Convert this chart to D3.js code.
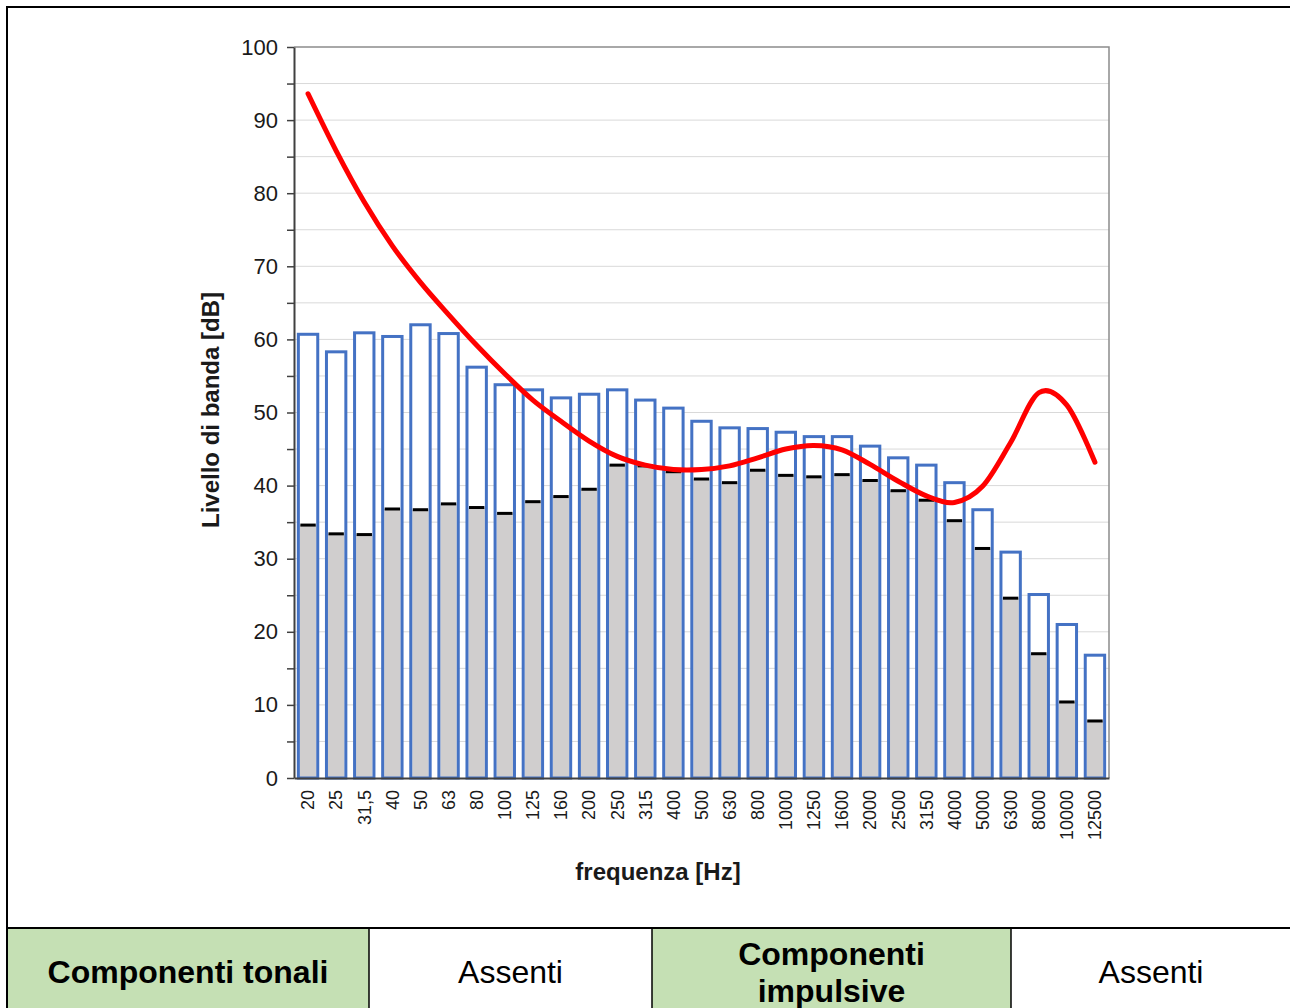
<!DOCTYPE html>
<html>
<head>
<meta charset="utf-8">
<script src="https://cdn.jsdelivr.net/npm/d3@7"></script>
<style>
  html, body { margin: 0; padding: 0; background: #fff; }
  svg { display: block; font-family: "Liberation Sans", Arial, sans-serif; }
</style>
</head>
<body>
<svg id="chart" width="1290" height="1008"></svg>
<script>
// Third-octave bands (Hz)
const categories = ["20","25","31,5","40","50","63","80","100","125","160","200","250","315","400","500","630","800","1000","1250","1600","2000","2500","3150","4000","5000","6300","8000","10000","12500"];

// Measured band level, dB (blue outlined bars)
const bandLevel = [60.7,58.3,60.9,60.4,62.0,60.8,56.2,53.8,53.1,52.0,52.5,53.1,51.7,50.6,48.8,47.9,47.8,47.3,46.7,46.7,45.4,43.8,42.8,40.4,36.7,30.9,25.1,21.0,16.8];

// Minimum band level, dB (grey bars with black marker)
const minLevel = [34.6,33.4,33.3,36.8,36.7,37.5,37.0,36.2,37.8,38.5,39.5,42.8,42.7,41.9,40.9,40.4,42.1,41.4,41.2,41.5,40.7,39.3,38.0,35.2,31.4,24.6,17.0,10.4,7.8];

// Reference curve, dB (red line)
const refCurve = [93.6,85.8,78.8,72.8,67.8,63.4,59.2,55.3,51.7,48.8,46.1,44.0,42.8,42.2,42.2,42.7,43.8,45.0,45.5,44.9,42.9,40.6,38.6,37.7,39.9,45.9,52.7,51.0,43.2];

const yTicks = d3.range(0, 101, 5);

// Summary table
const tableCells = [
  { lines: ["Componenti tonali"], bold: true, fill: "#C5E0B4" },
  { lines: ["Assenti"], bold: false, fill: "#FFFFFF" },
  { lines: ["Componenti", "impulsive"], bold: true, fill: "#C5E0B4" },
  { lines: ["Assenti"], bold: false, fill: "#FFFFFF" }
];
const tableEdges = [7, 369, 652, 1011, 1291];

const svg = d3.select("#chart");
const plotL = 294, plotR = 1109, plotT = 47, plotB = 778;

const x = d3.scaleBand().domain(categories).range([plotL, plotR])
  .paddingInner(0.31).paddingOuter(0.155);
const y = d3.scaleLinear().domain([0, 100]).range([plotB, plotT]);

// gridlines
svg.append("g").selectAll("line").data(yTicks.filter(d => d > 0 && d < 100)).join("line")
  .attr("x1", plotL).attr("x2", plotR)
  .attr("y1", d => y(d)).attr("y2", d => y(d))
  .attr("stroke", "#D9D9D9").attr("stroke-width", 1);

// plot frame (top and right)
svg.append("path")
  .attr("d", `M${plotL},${plotT}H${plotR}V${plotB}`)
  .attr("fill", "none").attr("stroke", "#8C8C8C").attr("stroke-width", 1.5);

const bw = x.bandwidth();
const bars = svg.append("g");
// white filled level bars
bars.selectAll("rect.lvl").data(categories).join("rect").attr("class", "lvl")
  .attr("x", d => x(d)).attr("width", bw)
  .attr("y", (d, i) => y(bandLevel[i])).attr("height", (d, i) => plotB - y(bandLevel[i]))
  .attr("fill", "#FFFFFF");
// grey minimum bars
bars.selectAll("rect.min").data(categories).join("rect").attr("class", "min")
  .attr("x", d => x(d) + 1.5).attr("width", bw - 3)
  .attr("y", (d, i) => y(minLevel[i])).attr("height", (d, i) => plotB - y(minLevel[i]))
  .attr("fill", "#D0CECE");
// black markers
bars.selectAll("line.mk").data(categories).join("line").attr("class", "mk")
  .attr("x1", d => x(d) + 2).attr("x2", d => x(d) + bw - 2)
  .attr("y1", (d, i) => y(minLevel[i])).attr("y2", (d, i) => y(minLevel[i]))
  .attr("stroke", "#000").attr("stroke-width", 3);
// blue outlines
bars.selectAll("rect.out").data(categories).join("rect").attr("class", "out")
  .attr("x", d => x(d)).attr("width", bw)
  .attr("y", (d, i) => y(bandLevel[i])).attr("height", (d, i) => plotB - y(bandLevel[i]))
  .attr("fill", "none").attr("stroke", "#4472C4").attr("stroke-width", 3);

// red reference curve
const line = d3.line()
  .x((d, i) => x(categories[i]) + bw / 2)
  .y(d => y(d))
  .curve(d3.curveCardinal.tension(0));
svg.append("path").datum(refCurve)
  .attr("d", line)
  .attr("fill", "none").attr("stroke", "#FF0000").attr("stroke-width", 5)
  .attr("stroke-linecap", "round");

// y axis
const yAxis = svg.append("g").attr("transform", `translate(${plotL},0)`)
  .call(d3.axisLeft(y).tickValues(yTicks).tickSize(7).tickSizeOuter(0)
    .tickFormat(d => d % 10 === 0 ? d : ""));
yAxis.select(".domain").attr("stroke", "#404040").attr("stroke-width", 2);
yAxis.selectAll(".tick line").attr("stroke", "#404040").attr("stroke-width", 1.5);
yAxis.selectAll(".tick text").attr("font-size", 22).attr("fill", "#1a1a1a")
  .attr("font-family", "Liberation Sans, Arial, sans-serif").attr("x", -16);

// x axis
const xAxis = svg.append("g").attr("transform", `translate(0,${plotB})`)
  .call(d3.axisBottom(x).tickSize(0).tickSizeOuter(0));
xAxis.select(".domain").attr("stroke", "#404040").attr("stroke-width", 2);
xAxis.selectAll(".tick text")
  .attr("transform", "rotate(-90)")
  .attr("x", -12).attr("y", 0).attr("dy", "0.35em")
  .attr("text-anchor", "end")
  .attr("font-size", 18).attr("fill", "#1a1a1a")
  .attr("font-family", "Liberation Sans, Arial, sans-serif");

// axis titles
svg.append("text").attr("x", 658).attr("y", 880).attr("text-anchor", "middle")
  .attr("font-size", 24).attr("font-weight", "bold").attr("fill", "#1a1a1a")
  .text("frequenza [Hz]");
svg.append("text").attr("transform", "translate(219,410) rotate(-90)")
  .attr("text-anchor", "middle")
  .attr("font-size", 24).attr("font-weight", "bold").attr("fill", "#1a1a1a")
  .text("Livello di banda [dB]");

// table
const tbl = svg.append("g");
tableCells.forEach((c, i) => {
  const x0 = tableEdges[i], x1 = tableEdges[i + 1];
  tbl.append("rect").attr("x", x0).attr("y", 928).attr("width", x1 - x0).attr("height", 90)
    .attr("fill", c.fill);
  const cx = (x0 + x1) / 2;
  const baseY = c.lines.length === 1 ? 983 : 965;
  c.lines.forEach((t, j) => {
    tbl.append("text").attr("x", cx).attr("y", baseY + j * 37)
      .attr("text-anchor", "middle").attr("font-size", 32)
      .attr("font-weight", c.bold ? "bold" : "normal").attr("fill", "#000")
      .text(t);
  });
});
tableEdges.slice(1, 4).forEach(e => {
  tbl.append("line").attr("x1", e).attr("x2", e).attr("y1", 928).attr("y2", 1008)
    .attr("stroke", "#000").attr("stroke-width", 1.5);
});
tbl.append("line").attr("x1", 7).attr("x2", 1290).attr("y1", 928).attr("y2", 928)
  .attr("stroke", "#000").attr("stroke-width", 2);

// outer frame
svg.append("path").attr("d", "M7,1008V7H1290")
  .attr("fill", "none").attr("stroke", "#000").attr("stroke-width", 2);
</script>
</body>
</html>
